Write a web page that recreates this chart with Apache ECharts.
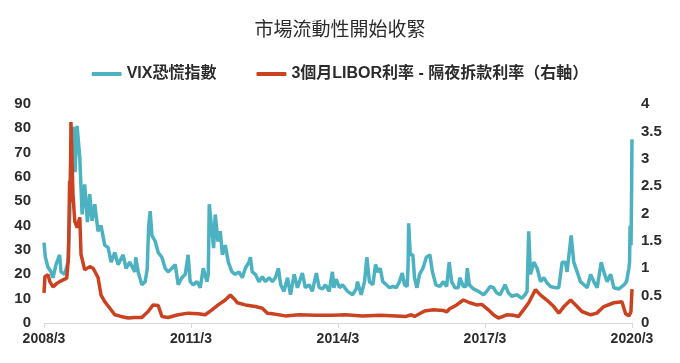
<!DOCTYPE html>
<html>
<head>
<meta charset="utf-8">
<script src="https://cdn.jsdelivr.net/npm/echarts@6/dist/echarts.min.js"></script>
<style>
html,body{margin:0;padding:0;background:#fff;}
#chart{width:680px;height:363px;}
</style>
</head>
<body>
<div id="chart"></div>
<script>
// ---- data ----
const chartTitle = '市場流動性開始收緊';
const seriesNames = ['VIX恐慌指數', '3個月LIBOR利率 - 隔夜拆款利率（右軸）'];
const xTickLabels = ['2008/3', '2011/3', '2014/3', '2017/3', '2020/3'];

const vixDates = ['2008-03-12','2008-03-22','2008-04-11','2008-05-03','2008-05-18','2008-06-10','2008-07-07','2008-07-17','2008-08-14','2008-09-08','2008-09-21','2008-09-30','2008-10-23','2008-10-30','2008-11-15','2008-12-05','2008-12-22','2009-01-11','2009-01-31','2009-02-18','2009-03-05','2009-03-25','2009-04-19','2009-05-11','2009-06-08','2009-07-03','2009-07-25','2009-08-22','2009-09-16','2009-10-23','2009-11-15','2009-12-12','2010-01-19','2010-01-26','2010-02-14','2010-03-11','2010-04-05','2010-04-20','2010-05-01','2010-05-12','2010-05-25','2010-06-19','2010-07-11','2010-08-08','2010-09-02','2010-09-24','2010-10-22','2010-11-16','2010-12-08','2011-01-05','2011-01-30','2011-02-21','2011-03-06','2011-03-28','2011-04-26','2011-05-20','2011-06-12','2011-07-09','2011-07-19','2011-07-26','2011-08-11','2011-08-28','2011-09-10','2011-09-30','2011-10-17','2011-11-03','2011-11-24','2011-12-16','2012-01-13','2012-02-07','2012-03-05','2012-03-29','2012-04-21','2012-05-18','2012-05-28','2012-06-12','2012-07-05','2012-08-01','2012-08-26','2012-09-18','2012-10-16','2012-11-10','2012-12-02','2012-12-24','2013-01-11','2013-02-05','2013-03-01','2013-03-23','2013-04-20','2013-05-14','2013-06-20','2013-07-12','2013-08-10','2013-09-03','2013-10-03','2013-10-24','2013-11-18','2013-12-10','2014-01-07','2014-01-17','2014-02-01','2014-02-12','2014-02-28','2014-03-23','2014-04-15','2014-05-22','2014-06-29','2014-07-26','2014-08-05','2014-09-02','2014-09-27','2014-10-14','2014-11-03','2014-11-28','2014-12-18','2015-01-04','2015-01-22','2015-02-11','2015-03-07','2015-04-01','2015-04-25','2015-05-20','2015-06-14','2015-07-04','2015-07-21','2015-08-10','2015-08-17','2015-08-21','2015-09-03','2015-09-22','2015-10-04','2015-10-22','2015-11-11','2015-12-06','2015-12-31','2016-01-27','2016-02-16','2016-03-11','2016-04-10','2016-05-06','2016-05-30','2016-06-19','2016-07-07','2016-07-31','2016-08-26','2016-09-07','2016-10-03','2016-10-22','2016-11-02','2016-11-17','2016-12-17','2017-01-24','2017-03-01','2017-03-25','2017-04-19','2017-05-14','2017-06-08','2017-07-03','2017-08-09','2017-09-04','2017-09-28','2017-11-05','2017-12-12','2018-01-06','2018-01-21','2018-02-03','2018-02-16','2018-03-11','2018-04-05','2018-04-30','2018-05-24','2018-06-18','2018-07-13','2018-08-20','2018-09-14','2018-10-09','2018-11-03','2018-11-15','2018-12-15','2019-01-04','2019-01-29','2019-02-23','2019-03-19','2019-04-13','2019-05-08','2019-06-01','2019-06-26','2019-07-26','2019-08-15','2019-09-09','2019-10-05','2019-10-29','2019-12-06','2020-01-13','2020-02-02','2020-02-19','2020-02-24','2020-02-28','2020-03-05','2020-03-09','2020-03-12'];
const vixValues = [33,27,23,21,18.6,24,28,21,20,25,44.6,72,80.6,62,81,68,44.6,57,41.5,53,42,48.8,37.7,40,32,31,25,29,24,28,22.5,25,21,27,21,15.7,17,22,40,46,36,33.6,29,27,22.5,21,22.5,24,15.7,18.6,20,28,17,15.7,17,14.5,22.5,17,20,48.8,40.5,30.8,44.6,33.5,37.7,28,32,25,21,20,21,18.6,22.5,25,27,21,20,17,19,17,18.6,17,18.6,22.5,15.7,13,18.6,11.6,20,14.5,20.5,14.5,15.7,13,20.5,14.5,14,15.7,13,13,21,14.5,18,14.5,15.7,13,11.6,14,17,11.6,17,27,17,15.7,24,21,22.5,17,15.7,14.5,15,14.5,17,20.5,15.7,15,24,41,28,28,18.6,14.5,20,22.5,27,28,21,15.7,15,17,15,25,17,14.5,14.5,18.6,15,15,22.5,15.7,14,13,11.6,13,15,14.5,12.4,11.6,15.7,12.4,11,11.6,10.2,11.6,13,37.7,20,25,22.5,17,18.6,16.5,15,14.5,14.5,25,25,21,36,25,21,17,15.7,14.5,20,17,14.5,25,21,17,20,14.5,14,15.7,17,22.5,25,40,32,54,75.5];

const liborDates = ['2008-03-12','2008-03-19','2008-04-11','2008-04-26','2008-05-18','2008-06-15','2008-07-10','2008-08-29','2008-09-12','2008-09-20','2008-09-25','2008-09-30','2008-10-15','2008-10-28','2008-11-15','2008-12-05','2008-12-14','2009-01-11','2009-02-18','2009-03-13','2009-04-19','2009-05-11','2009-06-08','2009-07-16','2009-08-22','2009-10-08','2009-11-30','2010-01-19','2010-03-11','2010-04-27','2010-06-04','2010-07-11','2010-08-08','2010-09-24','2010-12-08','2011-02-21','2011-05-05','2011-06-26','2011-08-16','2011-10-02','2011-11-24','2012-01-01','2012-01-30','2012-02-22','2012-04-21','2012-07-05','2012-08-26','2012-10-03','2012-11-10','2013-02-15','2013-05-26','2013-09-26','2014-02-01','2014-05-07','2014-09-12','2015-01-24','2015-05-22','2015-08-03','2015-09-10','2015-10-04','2015-11-11','2015-12-18','2016-02-22','2016-05-06','2016-05-30','2016-06-22','2016-08-14','2016-10-03','2016-11-20','2017-01-11','2017-02-18','2017-04-07','2017-05-14','2017-06-21','2017-08-22','2017-10-11','2017-11-18','2017-12-25','2018-02-03','2018-03-23','2018-04-30','2018-06-16','2018-08-07','2018-09-14','2018-10-22','2018-12-11','2019-01-18','2019-03-04','2019-05-08','2019-06-24','2019-08-15','2019-10-29','2019-12-28','2020-01-25','2020-02-19','2020-03-04','2020-03-12'];
const liborValues = [0.55,0.85,0.88,0.75,0.66,0.72,0.76,0.82,1.2,2.6,2.2,3.67,2.35,1.86,1.74,1.93,1.25,0.97,1.03,1.0,0.83,0.51,0.39,0.27,0.15,0.12,0.09,0.1,0.1,0.21,0.33,0.32,0.12,0.1,0.15,0.18,0.17,0.15,0.24,0.33,0.42,0.51,0.44,0.37,0.33,0.3,0.27,0.18,0.17,0.13,0.15,0.14,0.14,0.15,0.13,0.14,0.13,0.12,0.15,0.12,0.17,0.22,0.24,0.23,0.2,0.26,0.33,0.42,0.37,0.33,0.34,0.24,0.15,0.09,0.15,0.14,0.12,0.24,0.37,0.61,0.51,0.42,0.3,0.18,0.3,0.42,0.33,0.21,0.15,0.18,0.3,0.37,0.39,0.17,0.13,0.2,0.62];

// months elapsed since the axis start (2008-03-12)
function monthsSince(d) {
  const [y, m, day] = d.split('-').map(Number);
  return (y - 2008) * 12 + (m - 3) + (day - 12) / 30;
}
const vixData = vixDates.map((d, i) => [monthsSince(d), vixValues[i]]);
const liborData = liborDates.map((d, i) => [monthsSince(d), liborValues[i]]);

const latin = '"Liberation Sans", Arial, "Noto Sans CJK TC", sans-serif';
const chart = echarts.init(document.getElementById('chart'));
chart.setOption({
  animation: false,
  backgroundColor: '#ffffff',
  title: {
    text: chartTitle, left: 'center', top: 14,
    textStyle: { fontFamily: '"Noto Sans CJK TC", sans-serif', fontSize: 19, fontWeight: 'normal', color: '#2b2b2b' }
  },
  legend: {
    top: 61, left: 'center', itemGap: 40, itemWidth: 30, itemHeight: 4,
    textStyle: { fontFamily: latin, fontSize: 16, fontWeight: 'bold', color: '#2b2b2b' },
    data: [
      { name: seriesNames[0], icon: 'roundRect' },
      { name: seriesNames[1], icon: 'roundRect' }
    ]
  },
  grid: { left: 44, right: 48, top: 104, bottom: 40 },
  xAxis: {
    type: 'value', min: 0, max: 144, interval: 36,
    splitLine: { show: false },
    axisLine: { show: true, lineStyle: { color: '#d9d9d9' } },
    axisTick: { show: true, length: 5, lineStyle: { color: '#d9d9d9' } },
    axisLabel: {
      margin: 9, fontFamily: latin, fontSize: 14, fontWeight: 'bold', color: '#2b2b2b',
      formatter: v => xTickLabels[Math.round(v / 36)]
    }
  },
  yAxis: [
    {
      type: 'value', min: 0, max: 90, interval: 10, position: 'left',
      splitLine: { show: false }, axisLine: { show: false }, axisTick: { show: false },
      axisLabel: { margin: 13, fontFamily: latin, fontSize: 15, fontWeight: 'bold', color: '#2b2b2b' }
    },
    {
      type: 'value', min: 0, max: 4, interval: 0.5, position: 'right',
      splitLine: { show: false }, axisLine: { show: false }, axisTick: { show: false },
      axisLabel: { margin: 9, fontFamily: latin, fontSize: 15, fontWeight: 'bold', color: '#2b2b2b' }
    }
  ],
  series: [
    {
      name: seriesNames[0], type: 'line', yAxisIndex: 0, data: vixData,
      showSymbol: false, symbol: 'none', color: '#4cb1c1',
      lineStyle: { width: 3.5, color: '#4cb1c1' }, z: 2
    },
    {
      name: seriesNames[1], type: 'line', yAxisIndex: 1, data: liborData,
      showSymbol: false, symbol: 'none', color: '#cb4220',
      lineStyle: { width: 3.5, color: '#cb4220' }, z: 3
    }
  ]
});
</script>
</body>
</html>
